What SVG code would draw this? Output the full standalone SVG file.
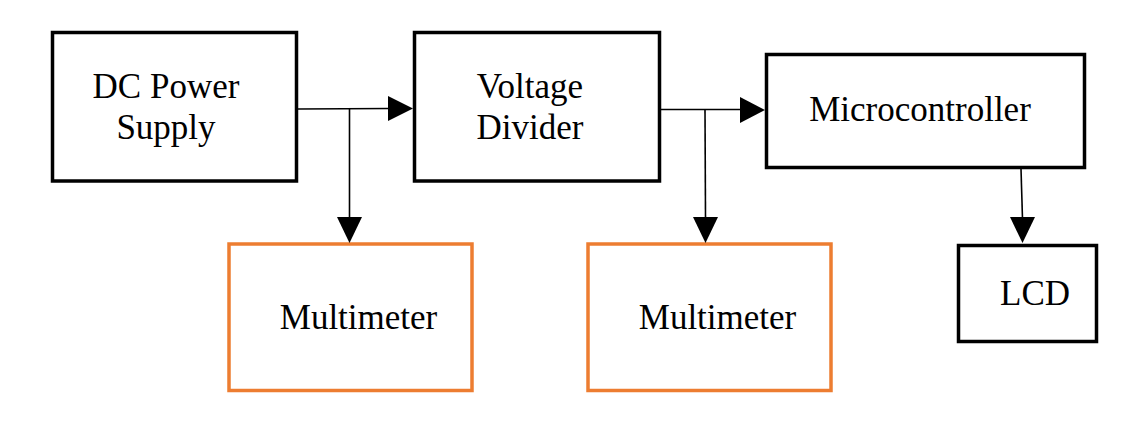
<svg xmlns="http://www.w3.org/2000/svg" width="1136" height="445" viewBox="0 0 1136 445">
<style>
.box{fill:#fff;stroke:#000;stroke-width:3.5}
.obox{fill:#fff;stroke:#ED7D31;stroke-width:3.5}
.lbl{font-family:"Liberation Serif","Times New Roman",serif;font-size:35px;fill:#000;text-anchor:middle}
.wire{fill:none;stroke:#000;stroke-width:1.6}
.head{fill:#000;stroke:none}
</style>
<rect width="1136" height="445" fill="#fff"/>
<g id="dc-power-supply">
<rect class="box" x="52.5" y="32.5" width="244" height="148.5"/>
<text class="lbl" x="166" y="98">DC Power</text>
<text class="lbl" x="166" y="139">Supply</text>
</g>
<g id="voltage-divider">
<rect class="box" x="414.5" y="32.5" width="245" height="148.5"/>
<text class="lbl" x="530" y="98">Voltage</text>
<text class="lbl" x="530" y="139">Divider</text>
</g>
<g id="microcontroller">
<rect class="box" x="766.5" y="54.5" width="318" height="113"/>
<text class="lbl" x="920" y="121">Microcontroller</text>
</g>
<g id="lcd">
<rect class="box" x="958.5" y="245.5" width="138" height="96"/>
<text class="lbl" x="1035" y="305">LCD</text>
</g>
<g id="multimeter-1">
<rect class="obox" x="229" y="244" width="243" height="146.5"/>
<text class="lbl" x="358.5" y="329">Multimeter</text>
</g>
<g id="multimeter-2">
<rect class="obox" x="588" y="244" width="243" height="146.5"/>
<text class="lbl" x="717.5" y="329">Multimeter</text>
</g>
<g id="connectors">
<path class="wire" d="M298 109 L390 108.5"/>
<polygon class="head" points="388,96 413,108.5 388,121"/>
<path class="wire" d="M349.5 109 L349.5 219"/>
<polygon class="head" points="337,217 362,217 349.5,243"/>
<path class="wire" d="M661 109.5 L742 109.5"/>
<polygon class="head" points="740,97 765,110 740,123"/>
<path class="wire" d="M705 109.5 L705.5 219"/>
<polygon class="head" points="693,217 718,217 705.5,243"/>
<path class="wire" d="M1021 169 L1022.5 219"/>
<polygon class="head" points="1010,217 1035,217 1022.5,243"/>
</g>
</svg>
